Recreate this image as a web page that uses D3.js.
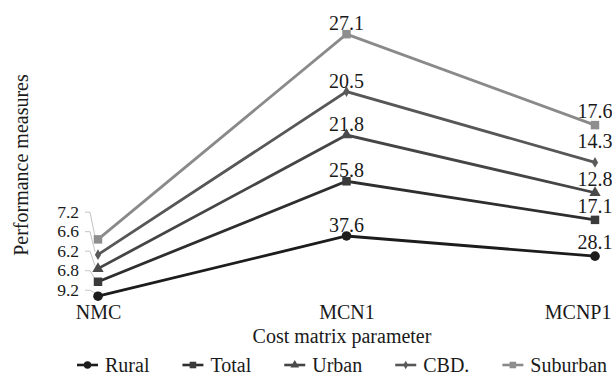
<!DOCTYPE html>
<html>
<head>
<meta charset="utf-8">
<script src="https://cdn.jsdelivr.net/npm/d3@7"></script>
<style>
  html, body { margin: 0; padding: 0; background: #fff; }
  svg { display: block; }
  svg text { font-family: "Liberation Serif", "DejaVu Serif", serif; }
</style>
</head>
<body>
<svg id="chart" width="612" height="381"></svg>
<script>
// Cost matrix parameters on the x axis
const categories = ["NMC", "MCN1", "MCNP1"];

// Series names, drawn bottom to top (stacked)
const seriesNames = ["Rural", "Total", "Urban", "CBD.", "Suburban"];

// Performance measures per series, one value per category
const rural    = [9.2, 37.6, 28.1];
const total    = [6.8, 25.8, 17.1];
const urban    = [6.2, 21.8, 12.8];
const cbd      = [6.6, 20.5, 14.3];
const suburban = [7.2, 27.1, 17.6];

const seriesValues = [rural, total, urban, cbd, suburban];

const FONT = "Liberation Serif, DejaVu Serif, serif";
const colors      = ["#1c1c1c", "#2e2e2e", "#454545", "#575757", "#8a8a8a"];
const markerFill  = ["#1c1c1c", "#3a3a3a", "#4a4a4a", "#5a5a5a", "#8e8e8e"];
const shapes  = [d3.symbolCircle, d3.symbolSquare, d3.symbolTriangle, d3.symbolDiamond, d3.symbolSquare];
const sizes   = [72, 72, 55, 34, 72];

const svg = d3.select("#chart").attr("font-family", FONT);

const x = d3.scalePoint().domain(categories).range([98, 595]);
const y = d3.scaleLinear().domain([0, 100]).range([315.7, 103.7]);

// Stack series so each line sits on top of the previous one
const table = categories.map((c, i) => {
  const row = { category: c };
  seriesNames.forEach((s, k) => row[s] = seriesValues[k][i]);
  return row;
});
const stacked = d3.stack().keys(seriesNames)(table);

const line = d3.line()
  .x((d, i) => x(categories[i]))
  .y(d => y(d[1]));

const g = svg.append("g");

// Leader lines and value labels beside the first category
stacked.forEach((layer, k) => {
  const d = layer[0];
  const cx = x(categories[0]);
  const cy = y(d[1]);
  const ly = y(stacked[0][0][1]) - 6 - k * 19.5;
  g.append("polyline")
    .attr("points", `${cx - 13},${ly} ${cx - 8},${ly} ${cx - 3},${cy - 3}`)
    .attr("fill", "none")
    .attr("stroke", "#c4c4c4")
    .attr("stroke-width", 1);
  g.append("text")
    .attr("x", cx - 19)
    .attr("y", ly)
    .attr("dy", "0.33em")
    .attr("text-anchor", "end")
    .attr("font-family", FONT)
    .attr("font-size", 17.5)
    .attr("fill", "#1a1a1a")
    .text(seriesValues[k][0].toFixed(1));
});

// Value labels above the points of the other categories
const nudge = { "CBD.|MCNP1": -7 };
stacked.forEach((layer, k) => {
  layer.forEach((d, i) => {
    if (i === 0) return;
    const cx = x(categories[i]);
    const cy = y(d[1]);
    const off = nudge[seriesNames[k] + "|" + categories[i]] || 0;
    g.append("text")
      .attr("x", cx)
      .attr("y", cy - (i === 1 ? 4 : 7) + off)
      .attr("text-anchor", "middle")
      .attr("font-family", FONT)
      .attr("font-size", 20)
      .attr("fill", "#1a1a1a")
      .text(seriesValues[k][i].toFixed(1));
  });
});

// Lines
stacked.forEach((layer, k) => {
  g.append("path")
    .datum(layer)
    .attr("fill", "none")
    .attr("stroke", colors[k])
    .attr("stroke-width", 2.8)
    .attr("d", line);
});

// Markers
stacked.forEach((layer, k) => {
  g.selectAll(null)
    .data(layer)
    .join("path")
    .attr("transform", (d, i) => `translate(${x(categories[i])},${y(d[1])})`)
    .attr("d", d3.symbol().type(shapes[k]).size(sizes[k]))
    .attr("fill", markerFill[k]);
});

// Category axis labels (no axis line); the last one is kept inside the frame
const xAxis = d3.axisBottom(x).tickSize(0).tickPadding(0);
const ax = svg.append("g").attr("transform", "translate(0,305)").call(xAxis);
ax.attr("font-family", FONT);
ax.select(".domain").remove();
ax.selectAll("text")
  .attr("font-family", FONT)
  .attr("font-size", 20)
  .attr("fill", "#1a1a1a");
ax.selectAll(".tick")
  .filter(d => d === categories[categories.length - 1])
  .select("text")
  .attr("text-anchor", "end")
  .attr("x", 611 - x(categories[categories.length - 1]));

// Axis titles
svg.append("text")
  .attr("x", 342)
  .attr("y", 343)
  .attr("text-anchor", "middle")
  .attr("font-family", FONT)
  .attr("font-size", 20)
  .attr("fill", "#1a1a1a")
  .text("Cost matrix parameter");

svg.append("text")
  .attr("transform", "translate(28,165) rotate(-90)")
  .attr("text-anchor", "middle")
  .attr("font-family", FONT)
  .attr("font-size", 20)
  .attr("fill", "#1a1a1a")
  .text("Performance measures");

// Legend: short line with marker, then the series name
const legend = svg.append("g").attr("transform", "translate(77,365)");
let lx = 0;
seriesNames.forEach((s, k) => {
  const item = legend.append("g").attr("transform", `translate(${lx},0)`);
  item.append("line")
    .attr("x1", 0).attr("x2", 21)
    .attr("y1", 0).attr("y2", 0)
    .attr("stroke", colors[k])
    .attr("stroke-width", 2.6);
  item.append("path")
    .attr("transform", "translate(10.5,0)")
    .attr("d", d3.symbol().type(shapes[k]).size(sizes[k] * 0.6))
    .attr("fill", markerFill[k]);
  const t = item.append("text")
    .attr("x", 28)
    .attr("y", 0)
    .attr("dy", "0.33em")
    .attr("font-family", FONT)
    .attr("font-size", 20)
    .attr("fill", "#1a1a1a")
    .text(s);
  lx += 28 + t.node().getComputedTextLength() + 33;
});
</script>
</body>
</html>
